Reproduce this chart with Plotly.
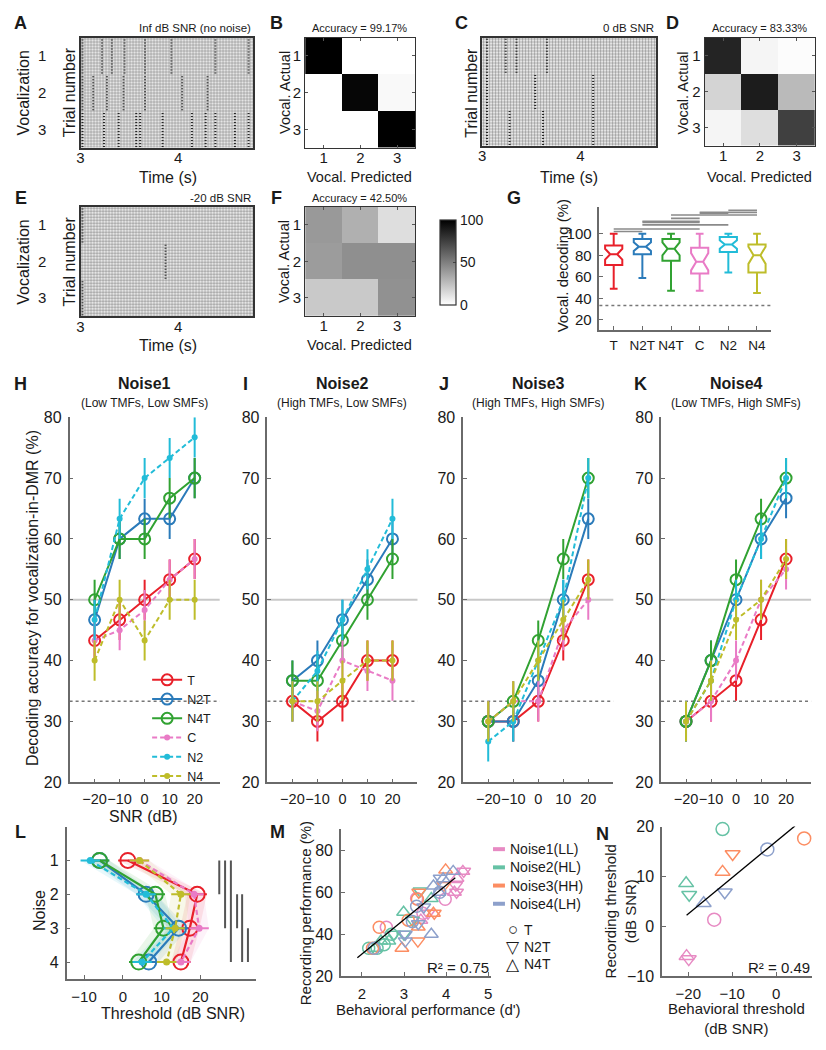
import plotly.graph_objects as go

W, H = 826, 1050
FONT = "Liberation Sans, Arial, Helvetica, sans-serif"
INK = "#1a1a1a"
AXC = "#6a6a6a"

# ====================== DATA ======================
vocal_labels = ["1", "2", "3"]
time_range = [3.0, 4.77]
time_ticks = [3, 4]

# visible burst (stripe) times in raster panels, per vocalization (s)
A_bursts = {1: [3.02, 3.22, 3.32, 3.45, 3.66, 3.93, 4.38, 4.72],
            2: [3.02, 3.13, 3.27, 3.44, 3.66, 4.04, 4.30],
            3: [3.02, 3.24, 3.39, 3.57, 3.61, 3.84, 4.14, 4.28, 4.38, 4.58, 4.72]}
C_bursts = {1: [3.05, 3.24, 3.35, 3.66],
            2: [3.05, 3.54, 4.13],
            3: [3.05, 3.28, 3.62, 4.13]}
E_bursts = {1: [3.02], 2: [3.87], 3: [3.02]}

conf_labels = [1, 2, 3]
B_conf = [[100, 0, 0], [0, 97.5, 2.5], [0, 0, 100]]
D_conf = [[86, 4, 1], [17, 89, 27], [4, 13, 75]]
F_conf = [[40, 31, 13], [39, 44, 44], [21, 21, 43]]
acc_B, acc_D, acc_F = "99.17%", "83.33%", "42.50%"
cbar_ticks = [0, 50, 100]

groups = ["T", "N2T", "N4T", "C", "N2", "N4"]
group_colors = ["#e8202a", "#2b7bba", "#31a232", "#e97bc6", "#22bcd8", "#bebd2a"]

G_low = [49, 59, 47, 47, 64, 45]
G_q1 = [71, 81, 75, 63, 83, 64]
G_med = [81, 88, 86, 74, 90, 80]
G_q3 = [89, 95, 95, 87, 97, 90]
G_high = [100, 100, 100, 100, 100, 100]
G_notch = [5, 4, 6, 8, 4, 8]
G_sig = [(0, 1, 102.1), (0, 3, 104.3), (1, 4, 108.2), (1, 3, 110.5), (1, 3, 111.5),
         (2, 3, 114.2), (2, 5, 117.3), (3, 4, 119.0), (3, 5, 119.8), (4, 5, 121.8)]
chance = 100 / 3
ref_line = 50

snr = [-20, -10, 0, 10, 20]
noise_titles = ["Noise1", "Noise2", "Noise3", "Noise4"]
noise_subtitles = ["(Low TMFs, Low SMFs)", "(High TMFs, Low SMFs)",
                   "(High TMFs, High SMFs)", "(Low TMFs, High SMFs)"]
n1_T = [43.3, 46.7, 50.0, 53.3, 56.7]
n1_N2T = [46.7, 60.0, 63.3, 63.3, 70.0]
n1_N4T = [50.0, 60.0, 60.0, 66.7, 70.0]
n1_C = [43.3, 45.0, 48.3, 53.3, 56.7]
n1_N2 = [46.7, 63.3, 70.0, 73.3, 76.7]
n1_N4 = [40.0, 50.0, 43.3, 50.0, 50.0]

n2_T = [33.3, 30.0, 33.3, 40.0, 40.0]
n2_N2T = [36.7, 40.0, 46.7, 53.3, 60.0]
n2_N4T = [36.7, 36.7, 43.3, 50.0, 56.7]
n2_C = [33.3, 31.7, 40.0, 38.3, 36.7]
n2_N2 = [33.3, 38.3, 46.7, 55.0, 63.3]
n2_N4 = [33.3, 33.3, 36.7, 40.0, 40.0]

n3_T = [30.0, 30.0, 33.3, 43.3, 53.3]
n3_N2T = [30.0, 30.0, 36.7, 50.0, 63.3]
n3_N4T = [30.0, 33.3, 43.3, 56.7, 70.0]
n3_C = [30.0, 33.3, 33.3, 45.0, 50.0]
n3_N2 = [26.7, 30.0, 40.0, 50.0, 70.0]
n3_N4 = [30.0, 33.3, 40.0, 46.7, 53.3]

n4_T = [30.0, 33.3, 36.7, 46.7, 56.7]
n4_N2T = [30.0, 40.0, 50.0, 60.0, 66.7]
n4_N4T = [30.0, 40.0, 53.3, 63.3, 70.0]
n4_C = [30.0, 33.3, 40.0, 50.0, 55.0]
n4_N2 = [30.0, 36.7, 50.0, 60.0, 70.0]
n4_N4 = [30.0, 36.7, 46.7, 50.0, 56.7]
acc_sem = 3.3

# L: thresholds (dB SNR) per noise 1..4
noise_idx = [1, 2, 3, 4]
L_T = [1.3, 19.2, 17.3, 15.0]
L_N2T = [-6.0, 6.0, 14.4, 6.7]
L_N4T = [-6.0, 8.4, 10.5, 4.1]
L_C = [4.3, 18.4, 19.7, 15.0]
L_N2 = [-8.4, 6.0, 13.0, 5.0]
L_N4 = [4.3, 15.0, 13.5, 11.3]
L_err = 2.5
L_sig = [(24.9, 1, 2), (26.4, 1, 3), (27.9, 1, 4), (29.5, 2, 3), (30.8, 2, 4), (32.3, 3, 4)]

# M / N: noise colours and marker groups
noise_names = ["Noise1(LL)", "Noise2(HL)", "Noise3(HH)", "Noise4(LH)"]
noise_colors = ["#e78ac3", "#66c2a5", "#fc8d62", "#8da0cb"]
marker_groups = ["T", "N2T", "N4T"]
marker_symbols = ["circle-open", "triangle-down-open", "triangle-up-open"]

# M: (behavioural d', recording %) per noise and group
M_n1_T = ([2.58, 3.30, 3.98, 3.45], [43.3, 57.0, 56.7, 50.0])
M_n1_N2T = ([4.42, 4.23, 3.57, 4.25], [70.0, 63.3, 50.0, 60.0])
M_n1_N4T = ([4.40, 4.26, 4.20, 3.40], [70.0, 66.7, 60.0, 46.7])
M_n2_T = ([2.16, 2.36, 2.53, 2.70], [33.3, 33.3, 35.0, 40.0])
M_n2_N2T = ([3.38, 2.76, 3.00, 3.20], [60.6, 40.0, 40.0, 46.7])
M_n2_N4T = ([2.99, 3.65, 2.45, 2.64, 2.30], [50.5, 57.0, 36.7, 36.7, 33.3])
M_n3_T = ([2.41, 2.25, 3.32, 3.10], [43.3, 33.3, 56.7, 46.7])
M_n3_N2T = ([3.95, 3.72, 3.33, 3.35], [63.3, 50.0, 36.7, 60.0])
M_n3_N4T = ([3.99, 3.34, 2.95, 3.70], [70.7, 43.4, 33.3, 50.0])
M_n4_T = ([2.29, 3.20, 3.30, 3.85], [33.3, 46.0, 53.3, 60.0])
M_n4_N2T = ([3.86, 3.47, 3.34, 3.03, 3.03], [66.7, 53.0, 45.0, 36.7, 40.0])
M_n4_N4T = ([4.17, 3.70, 3.65, 3.83, 3.93], [70.0, 63.0, 40.0, 60.0, 66.5])
M_fit = dict(slope=16.4, intercept=-2.2, x0=1.89, x1=4.22)
M_r2 = "R² = 0.75"

# N: behavioural vs recording thresholds (dB SNR), per noise 1..4
N_beh_T = [-14.1, -12.2, 6.4, -2.0]
N_rec_T = [1.3, 19.5, 17.6, 15.4]
N_beh_N2T = [-19.9, -19.8, -9.9, -11.7]
N_rec_N2T = [-6.6, 6.3, 14.5, 6.8]
N_beh_N4T = [-20.4, -20.5, -12.2, -16.5]
N_rec_N4T = [-6.0, 8.6, 10.9, 4.6]
N_fit = dict(slope=0.725, intercept=17.0, x0=-20.4, x1=4.3)
N_r2 = "R² = 0.49"

# ====================== HELPERS ======================
fig = go.Figure()
layout_axes = {}
annotations = []
shapes = []


def dx(l, r):
    return [l / W, r / W]


def dy(t, b):
    return [1 - b / H, 1 - t / H]


def ids(n):
    return ("x" if n == 1 else f"x{n}"), ("y" if n == 1 else f"y{n}")


def set_axes(n, xd, yd, xkw, ykw):
    xn = "xaxis" if n == 1 else f"xaxis{n}"
    yn = "yaxis" if n == 1 else f"yaxis{n}"
    xa, ya = ids(n)
    base = dict(showgrid=False, zeroline=False, tickangle=0,
                tickfont=dict(size=15, family=FONT, color=INK))
    xd_ = dict(base); xd_.update(dict(domain=dx(*xd), anchor=ya)); xd_.update(xkw)
    yd_ = dict(base); yd_.update(dict(domain=dy(*yd), anchor=xa)); yd_.update(ykw)
    layout_axes[xn] = xd_
    layout_axes[yn] = yd_


def ann(text, x, y, size=16, xanchor="center", yanchor="middle", angle=0,
        bold=False, xref="paper", yref="paper"):
    annotations.append(dict(
        text=f"<b>{text}</b>" if bold else text,
        x=x / W if xref == "paper" else x,
        y=1 - y / H if yref == "paper" else y,
        xref=xref, yref=yref, showarrow=False, xanchor=xanchor, yanchor=yanchor,
        textangle=angle, font=dict(size=size, family=FONT, color=INK)))


box_line = dict(showline=True, mirror=True, linecolor="#333", linewidth=1.5)

# ====================== RASTERS (A, C, E) ======================
raster_specs = [(1, (77, 251), (30, 142), A_bursts),
                (3, (481, 656), (30, 140), C_bursts),
                (5, (77, 251), (202, 313), E_bursts)]
for n, xd, yd, bursts in raster_specs:
    xa, ya = ids(n)
    fig.add_trace(go.Bar(
        x=[time_range[1] - time_range[0]], y=[len(vocal_labels) / 2], base=[time_range[0]],
        width=[len(vocal_labels)], orientation="h", xaxis=xa, yaxis=ya,
        marker=dict(color="white", line_width=0,
                    pattern=dict(shape=".", size=3, solidity=0.5, fgcolor="#2a2a2a",
                                 bgcolor="white")),
        hoverinfo="skip", showlegend=False))
    xs, ys = [], []
    for v, times in bursts.items():
        lo = len(vocal_labels) - v
        for t in times:
            xs += [t, t, None]
            ys += [lo + 0.02, lo + 0.98, None]
    fig.add_trace(go.Scatter(x=xs, y=ys, mode="lines", xaxis=xa, yaxis=ya,
                             line=dict(color="rgba(0,0,0,0.8)", width=2, dash="1px,2px"),
                             hoverinfo="skip", showlegend=False))
    set_axes(n, xd, yd,
             dict(range=time_range, tickvals=time_ticks, ticks="", ticklabelstandoff=-4,
                  **box_line),
             dict(range=[0, 3], showticklabels=False, ticks="", **box_line))

# ====================== CONFUSION MATRICES (B, D, F) ======================
heat_specs = [(2, (303, 414), (30, 142), B_conf, False),
              (4, (705, 816), (30, 140), D_conf, False),
              (6, (303, 414), (202, 313), F_conf, True)]
for n, xd, yd, z, scale in heat_specs:
    xa, ya = ids(n)
    hm = go.Heatmap(z=z, x=conf_labels, y=conf_labels, xaxis=xa, yaxis=ya,
                    colorscale=[[0, "white"], [1, "black"]], zmin=0, zmax=100,
                    showscale=scale, hoverinfo="skip")
    if scale:
        hm.colorbar = dict(x=429 / W, xanchor="left", y=1 - 258.5 / H, yanchor="middle",
                           len=107 / H, lenmode="fraction", thickness=16,
                           thicknessmode="pixels", outlinewidth=1.2, outlinecolor="#333",
                           tickvals=cbar_ticks, ticks="inside", ticklen=3,
                           tickfont=dict(size=14, family=FONT, color=INK))
    fig.add_trace(hm)
    ax = dict(tickvals=conf_labels, ticks="inside", ticklen=3, tickcolor="#555",
              showline=True, mirror="ticks", linecolor="#333", linewidth=1.2)
    set_axes(n, xd, yd, dict(range=[0.5, 3.5], ticklabelstandoff=-4, **ax),
             dict(range=[3.5, 0.5], ticklabelstandoff=0, **ax))

# ====================== G: box plot ======================
xa, ya = ids(7)
for i, g in enumerate(groups):
    fig.add_trace(go.Box(
        x=[g], q1=[G_q1[i]], median=[G_med[i]], q3=[G_q3[i]],
        lowerfence=[G_low[i]], upperfence=[G_high[i]],
        notchspan=[G_notch[i]], notched=True, notchwidth=0.3,
        width=0.6, whiskerwidth=0.45, boxpoints=False,
        line=dict(color=group_colors[i], width=2), fillcolor="rgba(255,255,255,0)",
        xaxis=xa, yaxis=ya, showlegend=False, hoverinfo="skip"))
for a, b, lev in G_sig:
    fig.add_trace(go.Scatter(x=[groups[a], groups[b]], y=[lev, lev], mode="lines",
                             line=dict(color="#8a8a8a", width=1.6), xaxis=xa, yaxis=ya,
                             showlegend=False, hoverinfo="skip"))
shapes.append(dict(type="line", xref="x7 domain", yref="y7", x0=0, x1=1, y0=chance, y1=chance,
                   line=dict(color="#777", width=1.5, dash="dot"), layer="below"))
axl = dict(showline=True, linecolor=AXC, linewidth=1.5, ticks="inside", ticklen=4, tickcolor=AXC)
set_axes(7, (599, 772), (202, 327),
         dict(type="category", categoryorder="array", categoryarray=groups,
              range=[-0.5, 5.5], ticklabelstandoff=2, **axl,
              tickfont=dict(size=13.5, family=FONT, color=INK)),
         dict(range=[11, 125], tickvals=[20, 40, 60, 80, 100], ticklabelstandoff=3, **axl))

# ====================== H-K: decoding vs SNR ======================
panel_series = [
    [n1_T, n1_N2T, n1_N4T, n1_C, n1_N2, n1_N4],
    [n2_T, n2_N2T, n2_N4T, n2_C, n2_N2, n2_N4],
    [n3_T, n3_N2T, n3_N4T, n3_C, n3_N2, n3_N4],
    [n4_T, n4_N2T, n4_N4T, n4_C, n4_N2, n4_N4],
]
panel_x = [(66, 217), (265, 416), (462, 613), (661, 812)]
for p, series in enumerate(panel_series):
    n = 8 + p
    xa, ya = ids(n)
    for i, vals in enumerate(series):
        c = group_colors[i]
        solid = i < 3
        marker = (dict(symbol="circle-open", size=11, color=c, line=dict(width=2, color=c))
                  if solid else dict(symbol="circle", size=6, color=c))
        fig.add_trace(go.Scatter(
            x=snr, y=vals, mode="lines+markers", name=groups[i],
            line=dict(color=c, width=2, dash="solid" if solid else "5px,3px"),
            marker=marker,
            error_y=dict(type="constant", value=acc_sem, thickness=2, width=0, color=c),
            xaxis=xa, yaxis=ya, showlegend=(p == 0), legend="legend", hoverinfo="skip"))
    shapes.append(dict(type="line", xref=f"x{n} domain", yref=f"y{n}", x0=0, x1=1,
                       y0=ref_line, y1=ref_line, line=dict(color="#c8c8c8", width=2),
                       layer="below"))
    shapes.append(dict(type="line", xref=f"x{n} domain", yref=f"y{n}", x0=0, x1=1,
                       y0=chance, y1=chance, line=dict(color="#777", width=1.5, dash="dot"),
                       layer="below"))
    set_axes(n, panel_x[p], (416, 787),
             dict(range=[-30, 30], tickvals=snr, **axl, ticklabelstandoff=3,
                  tickfont=dict(size=14.5, family=FONT, color=INK)),
             dict(range=[20, 80], tickvals=list(range(20, 81, 10)), **axl,
                  ticklabelstandoff=3, tickfont=dict(size=16, family=FONT, color=INK)))
    cx = (panel_x[p][0] + panel_x[p][1]) / 2 + 0
    ann(noise_titles[p], cx, 382, size=16, bold=True)
    ann(noise_subtitles[p], cx, 401, size=12)

# ====================== L: thresholds ======================
xa, ya = ids(12)
L_series = [L_T, L_N2T, L_N4T, L_C, L_N2, L_N4]


def rgba(hexc, a):
    h = hexc.lstrip("#")
    return f"rgba({int(h[0:2],16)},{int(h[2:4],16)},{int(h[4:6],16)},{a})"


for i, vals in enumerate(L_series):
    c = group_colors[i]
    bx = [v - L_err for v in vals] + [v + L_err for v in reversed(vals)]
    by = noise_idx + list(reversed(noise_idx))
    fig.add_trace(go.Scatter(x=bx, y=by, fill="toself", fillcolor=rgba(c, 0.10),
                             line=dict(width=0), mode="lines", xaxis=xa, yaxis=ya,
                             showlegend=False, hoverinfo="skip"))
for i, vals in enumerate(L_series):
    c = group_colors[i]
    solid = i < 3
    marker = (dict(symbol="circle-open", size=15, color=c, line=dict(width=2, color=c))
              if solid else dict(symbol="circle", size=7, color=c))
    fig.add_trace(go.Scatter(
        x=vals, y=noise_idx, mode="lines+markers",
        line=dict(color=c, width=2.2, dash="solid" if solid else "5px,3px"), marker=marker,
        error_x=dict(type="constant", value=L_err, thickness=2, width=0, color=c),
        xaxis=xa, yaxis=ya, showlegend=False, hoverinfo="skip"))
for xv, a, b in L_sig:
    fig.add_trace(go.Scatter(x=[xv, xv], y=[a, b], mode="lines",
                             line=dict(color="#555", width=2), xaxis=xa, yaxis=ya,
                             showlegend=False, hoverinfo="skip"))
set_axes(12, (63, 254), (832, 987),
         dict(range=[-14.5, 34.5], tickvals=[-10, 0, 10, 20], **axl, ticklabelstandoff=3),
         dict(range=[4.5, 0], tickvals=noise_idx, **axl, ticklabelstandoff=3,
              tickfont=dict(size=16, family=FONT, color=INK)))

# ====================== M: recording vs behaviour ======================
xa, ya = ids(13)
M_sets = [[M_n1_T, M_n1_N2T, M_n1_N4T], [M_n2_T, M_n2_N2T, M_n2_N4T],
          [M_n3_T, M_n3_N2T, M_n3_N4T], [M_n4_T, M_n4_N2T, M_n4_N4T]]
for k, sets in enumerate(M_sets):
    for j, (mx, my) in enumerate(sets):
        fig.add_trace(go.Scatter(x=mx, y=my, mode="markers", xaxis=xa, yaxis=ya,
                                 cliponaxis=False,
                                 marker=dict(symbol=marker_symbols[j], size=12,
                                             color=noise_colors[k],
                                             line=dict(width=1.5, color=noise_colors[k])),
                                 showlegend=False, hoverinfo="skip"))
fx = [M_fit["x0"], M_fit["x1"]]
fig.add_trace(go.Scatter(x=fx, y=[M_fit["slope"] * v + M_fit["intercept"] for v in fx],
                         mode="lines", line=dict(color="black", width=1.3),
                         xaxis=xa, yaxis=ya, showlegend=False, hoverinfo="skip"))
set_axes(13, (339, 490), (835, 984),
         dict(range=[1.5, 5.07], tickvals=[2, 3, 4, 5], **axl, ticklabelstandoff=3),
         dict(range=[20, 90], tickvals=[20, 40, 60, 80], **axl, ticklabelstandoff=3,
              tickfont=dict(size=16, family=FONT, color=INK)))

# ====================== N: thresholds ======================
xa, ya = ids(14)
N_sets = [(N_beh_T, N_rec_T), (N_beh_N2T, N_rec_N2T), (N_beh_N4T, N_rec_N4T)]
for j, (bx_, ry_) in enumerate(N_sets):
    for k in range(len(noise_names)):
        fig.add_trace(go.Scatter(x=[bx_[k]], y=[ry_[k]], mode="markers", xaxis=xa, yaxis=ya,
                                 cliponaxis=False,
                                 marker=dict(symbol=marker_symbols[j], size=13,
                                             color=noise_colors[k],
                                             line=dict(width=1.5, color=noise_colors[k])),
                                 showlegend=False, hoverinfo="skip"))
fx = [N_fit["x0"], N_fit["x1"]]
fig.add_trace(go.Scatter(x=fx, y=[N_fit["slope"] * v + N_fit["intercept"] for v in fx],
                         mode="lines", line=dict(color="black", width=1.3),
                         xaxis=xa, yaxis=ya, showlegend=False, hoverinfo="skip"))
set_axes(14, (662, 813), (832, 984),
         dict(range=[-26, 8.2], tickvals=[-20, -10, 0], **axl, ticklabelstandoff=3),
         dict(range=[-10, 20], tickvals=[-10, 0, 10, 20], **axl, ticklabelstandoff=3,
              tickfont=dict(size=16, family=FONT, color=INK)))

# ====================== TEXT ======================
for letter, x, y in [("A", 17, 15), ("B", 274, 15), ("C", 460, 15), ("D", 673, 15),
                     ("E", 17, 193), ("F", 274, 193), ("G", 513, 193),
                     ("H", 17, 382), ("I", 243, 382), ("J", 443, 382), ("K", 640, 382),
                     ("L", 17, 838), ("M", 275, 838), ("N", 602, 840)]:
    ann(letter, x, y, size=18, bold=True)

ann("Inf dB SNR (no noise)", 251, 20, size=11.5, xanchor="right")
ann("0 dB SNR", 656, 20, size=11.5, xanchor="right")
ann("-20 dB SNR", 251, 193, size=11.5, xanchor="right")
ann("Accuracy = " + acc_B, 358, 20, size=11)
ann("Accuracy = " + acc_D, 760, 20, size=11)
ann("Accuracy = " + acc_F, 358, 193, size=11)

for yc in [86, 258]:
    ann("Vocalization", 20, yc, angle=-90)
for yref in ["y", "y5"]:
    for i, lab in enumerate(vocal_labels):
        ann(lab, 38, len(vocal_labels) - 0.5 - i, size=15, yref=yref)
ann("Trial number", 66, 86, angle=-90)
ann("Trial number", 66, 258, angle=-90)
ann("Trial number", 470, 86, angle=-90)
ann("Time (s)", 165, 172)
ann("Time (s)", 568, 172)
ann("Time (s)", 165, 343)
ann("Vocal. Actual", 282, 86, size=14.5, angle=-90)
ann("Vocal. Actual", 683, 86, size=14.5, angle=-90)
ann("Vocal. Actual", 282, 258, size=14.5, angle=-90)
ann("Vocal. Predicted", 358, 172, size=14.5)
ann("Vocal. Predicted", 760, 172, size=14.5)
ann("Vocal. Predicted", 358, 343, size=14.5)
ann("Vocal. decoding (%)", 562, 262, size=15, angle=-90)

ann("Decoding accuracy for vocalization-in-DMR (%)", 28, 600, angle=-90)
ann("SNR (dB)", 140, 822)

ann("Noise", 35, 917, angle=-90)
ann("Threshold (dB SNR)", 170, 1022)

ann("Recording performance (%)", 303, 920, size=15, angle=-90)
ann("Behavioral performance (d')", 427, 1018, size=15)
ann(M_r2, 490, 975, size=15, xanchor="right")

ann("Recording threshold<br>(dB SNR)", 620, 918, size=15, angle=-90)
ann("Behavioral threshold<br>(dB SNR)", 737, 1027, size=15)
ann(N_r2, 813, 975, size=15, xanchor="right")

# M legend (manual)
for k, name in enumerate(noise_names):
    yy = 855 + 18.5 * k
    shapes.append(dict(type="line", xref="paper", yref="paper", x0=492 / W, x1=504 / W,
                       y0=1 - yy / H, y1=1 - yy / H,
                       line=dict(color=noise_colors[k], width=4)))
    ann(name, 507, yy, size=14, xanchor="left")
for j, (sym, g) in enumerate(zip(["○", "▽", "△"], marker_groups)):
    yy = 937 + 17.5 * j
    ann(sym, 512, yy, size=17)
    ann(g, 521, yy, size=14, xanchor="left")

fig.update_layout(
    width=W, height=H, margin=dict(l=0, r=0, t=0, b=0),
    paper_bgcolor="white", plot_bgcolor="rgba(0,0,0,0)",
    font=dict(family=FONT, color=INK),
    boxmode="overlay", showlegend=True,
    legend=dict(x=144 / W, y=1 - 668 / H, xanchor="left", yanchor="top",
                bgcolor="rgba(0,0,0,0)", font=dict(size=12.5, family=FONT, color=INK),
                tracegroupgap=0, itemwidth=30),
    annotations=annotations, shapes=shapes,
    **layout_axes)

fig.write_html("out.html", config={"displayModeBar": False},
               post_script="document.body.style.margin='0';document.body.style.padding='0';"
                           "document.body.style.overflow='hidden';")
